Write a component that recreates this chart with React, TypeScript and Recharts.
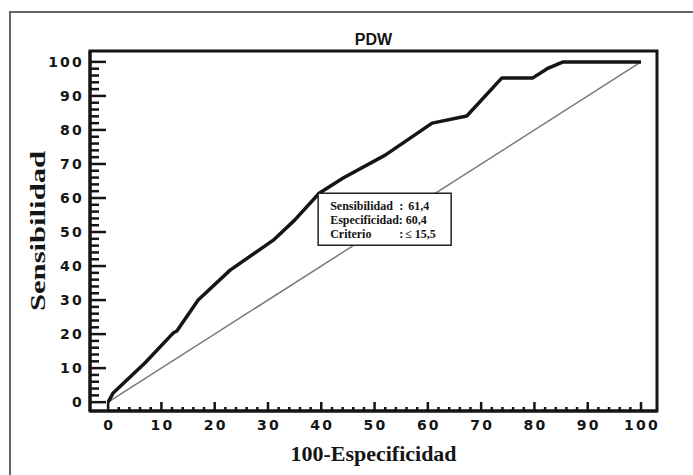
import { LineChart, Line, XAxis, YAxis, ReferenceArea, ReferenceDot, Label } from "recharts";

// ROC curve points (100-Especificidad vs Sensibilidad)
const rocX = [0, 0.9, 6.9, 12.2, 12.9, 16.9, 22.9, 31, 35, 39.6, 44.1, 52, 60.8, 67.3, 73.9, 79.7, 82.6, 85.4, 100];
const rocY = [0, 2.6, 11.5, 20.3, 20.9, 30, 38.8, 47.6, 53.5, 61.4, 65.9, 72.6, 82, 84.1, 95.3, 95.3, 98.2, 100, 100];

const diagX = [0, 100];
const diagY = [0, 100];

const allTicks = Array.from({ length: 51 }, (_, i) => i * 2);

const cutoff = { x: 39.6, y: 61.4, sens: "61,4", spec: "60,4", crit: "≤ 15,5" };

const roc = rocX.map((x, i) => ({ x, y: rocY[i] }));
const diag = diagX.map((x, i) => ({ x, y: diagY[i] }));

const INK = "#151515";
const tickFont = { fontFamily: "DejaVu Sans", fontWeight: 700, fontSize: 14, fill: INK, letterSpacing: 2.2 };
const serif = { fontFamily: "Liberation Serif", fontWeight: 700, fill: INK };

const XTick = ({ x, y, payload }: any) => {
  const major = payload.value % 10 === 0;
  return (
    <g>
      <line x1={x} x2={x} y1={y} y2={y - (major ? 9 : 4)} stroke={INK} strokeWidth={2.5} />
      {major && (
        <text x={x + 1} y={y + 19} textAnchor="middle" {...tickFont}>
          {payload.value}
        </text>
      )}
    </g>
  );
};

const YTick = ({ x, y, payload }: any) => {
  const major = payload.value % 10 === 0;
  return (
    <g>
      <line x1={x} x2={x + (major ? 16 : 9)} y1={y} y2={y} stroke={INK} strokeWidth={2.5} />
      {major && (
        <text x={x - 6} y={y + 5} textAnchor="end" {...tickFont}>
          {payload.value}
        </text>
      )}
    </g>
  );
};

const CutoffBox = ({ cx, cy }: any) => {
  const left = cx + 11;
  return (
    <g>
      <rect x={cx - 1} y={cy} width={133} height={52} fill="#fff" stroke="#222" strokeWidth={1.5} />
      <g {...serif} fontSize={12}>
        <text x={left} y={cy + 17}>Sensibilidad</text>
        <text x={cx + 80} y={cy + 17}>:</text>
        <text x={cx + 89} y={cy + 17}>{cutoff.sens}</text>
        <text x={left} y={cy + 31}>Especificidad: {cutoff.spec}</text>
        <text x={left} y={cy + 45}>Criterio</text>
        <text x={cx + 80} y={cy + 45}>:</text>
        <text x={cx + 86} y={cy + 45}>{cutoff.crit}</text>
      </g>
    </g>
  );
};

export default function App() {
  return (
    <div style={{ position: "absolute", left: 0, top: 0, width: 693, height: 475, overflow: "hidden", background: "#fff" }}>
      {/* outer frame, runs off the right and bottom edges */}
      <div style={{ position: "absolute", left: 9, top: 11, width: 700, height: 480, border: "2px solid #666" }} />
      <div
        style={{
          position: "absolute",
          left: 90,
          width: 567,
          top: 31,
          textAlign: "center",
          fontFamily: "Liberation Sans",
          fontWeight: 700,
          fontSize: 16,
          color: INK,
          lineHeight: "18px",
        }}
      >
        PDW
      </div>
      <LineChart
        width={693}
        height={475}
        margin={{ top: 51, right: 36, left: 0, bottom: 0 }}
        style={{ position: "absolute", left: 0, top: 0 }}
      >
        <XAxis
          type="number"
          dataKey="x"
          domain={[-3.4, 103]}
          allowDataOverflow
          ticks={allTicks}
          interval={0}
          tickSize={0}
          tickMargin={0}
          tickLine={false}
          tick={<XTick />}
          axisLine={{ stroke: INK, strokeWidth: 3 }}
          height={64}
        >
          <Label
            content={({ viewBox }: any) => (
              <text x={viewBox.x + viewBox.width / 2} y={viewBox.y + 50} textAnchor="middle" {...serif} fontSize={22}>
                100-Especificidad
              </text>
            )}
          />
        </XAxis>
        <YAxis
          type="number"
          dataKey="y"
          domain={[-2.6, 103.2]}
          allowDataOverflow
          ticks={allTicks}
          interval={0}
          tickSize={0}
          tickMargin={0}
          tickLine={false}
          tick={<YTick />}
          axisLine={{ stroke: INK, strokeWidth: 3 }}
          width={90}
        >
          <Label
            content={({ viewBox }: any) => {
              const cx = viewBox.x + 37;
              const cy = viewBox.y + viewBox.height / 2;
              return (
                <text
                  x={cx}
                  y={cy}
                  textAnchor="middle"
                  dominantBaseline="central"
                  transform={`rotate(-90 ${cx} ${cy})`}
                  textLength={160}
                  lengthAdjust="spacingAndGlyphs"
                  {...serif}
                  fontSize={22}
                >
                  Sensibilidad
                </text>
              );
            }}
          />
        </YAxis>
        <ReferenceArea x1={-3.4} x2={103} y1={-2.6} y2={103.2} fill="none" stroke={INK} strokeWidth={3} />
        <Line data={diag} dataKey="y" type="linear" stroke="#7a7a7a" strokeWidth={1.5} dot={false} isAnimationActive={false} />
        <Line data={roc} dataKey="y" type="linear" stroke={INK} strokeWidth={3.5} dot={false} strokeLinejoin="round" isAnimationActive={false} />
        <ReferenceDot x={cutoff.x} y={cutoff.y} shape={<CutoffBox />} />
      </LineChart>
    </div>
  );
}
